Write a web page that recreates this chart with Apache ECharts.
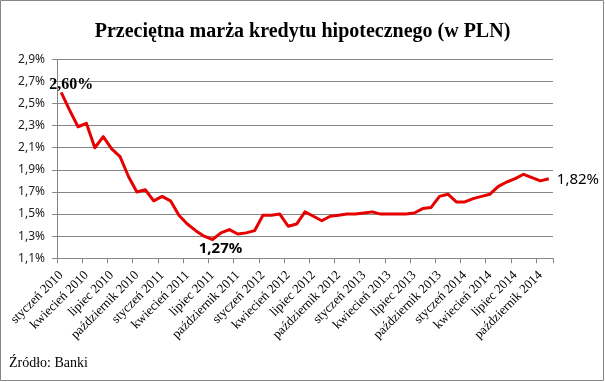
<!DOCTYPE html>
<html>
<head>
<meta charset="utf-8">
<script src="https://cdn.jsdelivr.net/npm/echarts@6/dist/echarts.min.js"></script>
<style>
html,body{margin:0;padding:0;background:#fff;}
#c{width:605px;height:382px;}
</style>
</head>
<body>
<div id="c"></div>
<script>
const monthNames = ['styczeń','luty','marzec','kwiecień','maj','czerwiec','lipiec','sierpień','wrzesień','październik','listopad','grudzień'];
const years = [2010, 2011, 2012, 2013, 2014];
const lastMonthIndex2014 = 10; // listopad 2014
const margin = [
  2.60, 2.44, 2.29, 2.32, 2.10, 2.20, 2.09, 2.02, 1.84, 1.70, 1.72, 1.62,
  1.66, 1.62, 1.49, 1.41, 1.35, 1.30, 1.27, 1.33, 1.36, 1.32, 1.33, 1.35,
  1.49, 1.49, 1.50, 1.39, 1.41, 1.52, 1.48, 1.44, 1.48, 1.49, 1.50, 1.50,
  1.51, 1.52, 1.50, 1.50, 1.50, 1.50, 1.51, 1.55, 1.56, 1.66, 1.68, 1.61,
  1.61, 1.64, 1.66, 1.68, 1.75, 1.79, 1.82, 1.86, 1.83, 1.80, 1.82
];
const yTicks = [1.1, 1.3, 1.5, 1.7, 1.9, 2.1, 2.3, 2.5, 2.7, 2.9];

const categories = [];
years.forEach(y => {
  monthNames.forEach((m, i) => {
    if (y < 2014 || i <= lastMonthIndex2014) categories.push(m + ' ' + y);
  });
});

const fmtPct = (v, d) => v.toFixed(d).replace('.', ',') + '%';
const minIdx = margin.indexOf(Math.min(...margin));
const lastIdx = margin.length - 1;

const seriesData = margin.map((v, i) => {
  if (i === 0) return {value: v, label: {show: true, position: 'top', distance: 0, offset: [10, 0],
    fontFamily: 'Liberation Serif', fontWeight: 'bold', fontSize: 16, color: '#000'}};
  if (i === minIdx) return {value: v, label: {show: true, position: 'bottom', distance: 2, offset: [8, 0],
    fontFamily: 'Noto Sans', fontWeight: 'bold', fontSize: 15, color: '#000'}};
  if (i === lastIdx) return {value: v, label: {show: true, position: 'right', distance: 8, offset: [0, 1],
    fontFamily: 'Noto Sans', fontSize: 15, color: '#000'}};
  return v;
});

const chart = echarts.init(document.getElementById('c'), null, {renderer: 'canvas'});
chart.setOption({
  animation: false,
  backgroundColor: '#fff',
  title: {
    text: 'Przeciętna marża kredytu hipotecznego (w PLN)',
    left: 'center', top: 17,
    textStyle: {fontFamily: 'Liberation Serif', fontWeight: 'bold', fontSize: 20, color: '#000'}
  },
  graphic: [{
    type: 'rect', silent: true, z: -1,
    shape: {x: 0.5, y: 0.5, width: 603, height: 380},
    style: {fill: 'none', stroke: '#868686', lineWidth: 1}
  }, {
    type: 'text', left: 9, top: 356,
    style: {text: 'Źródło: Banki', fontFamily: 'Liberation Serif', fontSize: 14, fill: '#000'}
  }],
  grid: {left: 57, right: 52, top: 59.3, bottom: 123.7, containLabel: false},
  xAxis: {
    type: 'category',
    data: categories,
    boundaryGap: true,
    axisLine: {show: true, lineStyle: {color: '#868686', width: 1}},
    axisTick: {show: true, interval: 2, length: 5, lineStyle: {color: '#868686'}},
    axisLabel: {interval: 2, rotate: 45, margin: 15, fontFamily: 'Liberation Serif', fontSize: 13, color: '#000'},
    splitLine: {show: false}
  },
  yAxis: {
    type: 'value',
    min: yTicks[0], max: yTicks[yTicks.length - 1], interval: 0.2,
    axisLine: {show: true, lineStyle: {color: '#868686', width: 1}},
    axisTick: {show: true, length: 5, lineStyle: {color: '#868686'}},
    axisLabel: {margin: 12, fontFamily: 'Noto Sans', fontSize: 12, color: '#222',
      formatter: v => fmtPct(v, 1)},
    splitLine: {show: true, lineStyle: {color: '#868686', width: 1}}
  },
  series: [{
    type: 'line',
    data: seriesData,
    symbol: 'circle',
    symbolSize: 0,
    showSymbol: true,
    showAllSymbol: true,
    smooth: false,
    lineStyle: {color: '#e60000', width: 3, join: 'round'},
    itemStyle: {color: '#e60000'},
    label: {formatter: p => fmtPct(p.value, 2)}
  }]
});
</script>
</body>
</html>
